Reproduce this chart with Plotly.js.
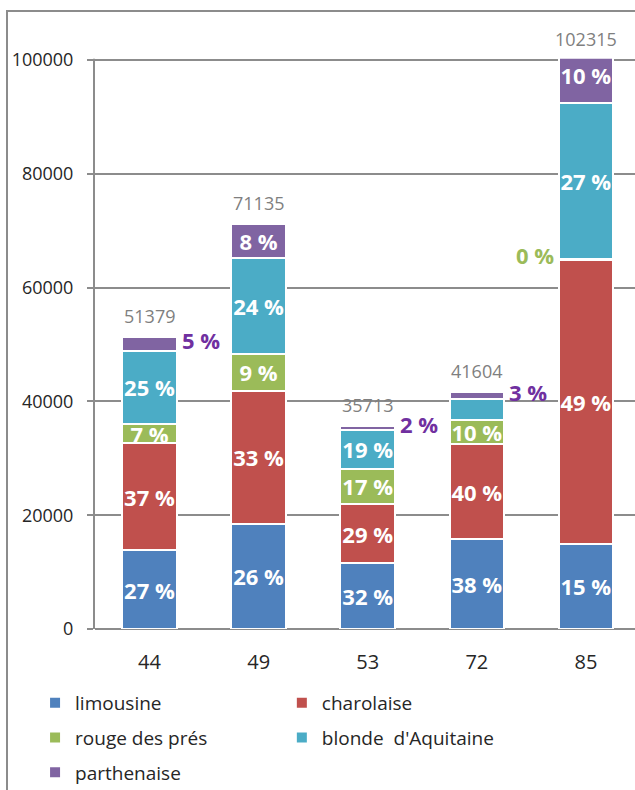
<!DOCTYPE html>
<html>
<head>
<meta charset="utf-8">
<script src="https://cdn.plot.ly/plotly-3.0.1.min.js"></script>
<style>
  html, body { margin: 0; padding: 0; background: #fff; overflow: hidden; }
  #frame { position: absolute; left: 6px; top: 10px; border-left: 2px solid #8c8c8c; border-top: 2px solid #8c8c8c; }
  #chart { width: 627px; height: 780px; }
</style>
</head>
<body>
<div id="frame"><div id="chart"></div></div>
<script>
// Head counts per breed, by département
const categories = ['44', '49', '53', '72', '85'];
const limousine = [13800, 18500, 11550, 15800, 15000];
const charolaise = [18800, 23400, 10450, 16700, 49800];
const rougeDesPres = [3500, 6500, 6150, 4150, 300];
const blondeAquitaine = [12700, 16800, 6900, 3700, 27300];
const parthenaise = [2579, 5935, 663, 1254, 9915];

const seriesNames = ['limousine', 'charolaise', 'rouge des prés', 'blonde\u00a0 d\'Aquitaine', 'parthenaise'];
const seriesValues = [limousine, charolaise, rougeDesPres, blondeAquitaine, parthenaise];
const seriesColors = ['#4F81BD', '#C0504D', '#9BBB59', '#4BACC6', '#8064A2'];
// legend column of each series
const seriesLegend = ['legend', 'legend2', 'legend', 'legend2', 'legend'];
const yTicks = [0, 20000, 40000, 60000, 80000, 100000];
const yMax = 100000;

// Segments whose share is written beside the bar: [series, category, side]
const sideLabels = [[4, 0, 'right'], [4, 2, 'right'], [4, 3, 'right'], [2, 4, 'left']];
const sideLabelColors = { 2: '#9BBB59', 4: '#7030A0' };
// Segments left without a share label: [series, category]
const unlabeled = [[3, 3]];

const FONT = 'Open Sans, sans-serif';
const totals = categories.map((c, i) => seriesValues.reduce((s, v) => s + v[i], 0));
const share = (s, i) => Math.round(seriesValues[s][i] / totals[i] * 100) + ' %';
const has = (list, s, i) => list.some(l => l[0] === s && l[1] === i);

const traces = seriesValues.map((vals, s) => ({
  type: 'bar',
  name: seriesNames[s],
  legend: seriesLegend[s],
  legendgroup: 'g' + s,
  x: categories,
  y: vals,
  marker: { color: seriesColors[s], line: { color: '#ffffff', width: 2 } },
  text: vals.map((v, i) => (has(sideLabels, s, i) || has(unlabeled, s, i)) ? '' : share(s, i)),
  textposition: 'inside',
  insidetextanchor: 'middle',
  textangle: 0,
  constraintext: 'none',
  insidetextfont: { family: FONT, size: 22, color: '#ffffff', weight: 'bold' },
  hoverinfo: 'skip'
}));

// Shares written next to thin segments (x given as category index)
const annotations = sideLabels.map(([s, i, side]) => {
  const below = seriesValues.slice(0, s).reduce((a, v) => a + v[i], 0);
  const right = side === 'right';
  return {
    x: i + (right ? 0.25 : -0.25),
    y: below + seriesValues[s][i] / 2,
    xref: 'x', yref: 'y',
    text: share(s, i),
    showarrow: false,
    xanchor: right ? 'left' : 'right',
    yanchor: 'middle',
    xshift: right ? 3 : -3,
    yshift: 4,
    font: { family: FONT, size: 22, color: sideLabelColors[s], weight: 'bold' }
  };
});

// Stack totals, sitting on the visible top of each stack
totals.forEach((t, i) => annotations.push({
  x: i,
  y: Math.min(t, yMax),
  xref: 'x', yref: 'y',
  text: String(t),
  showarrow: false,
  xanchor: 'center',
  yanchor: 'bottom',
  yshift: 7,
  font: { family: FONT, size: 18, color: '#7f7f7f' }
}));

const legendCommon = {
  orientation: 'v',
  traceorder: 'grouped',
  tracegroupgap: 7,
  y: -0.0896,
  yanchor: 'top',
  xanchor: 'left',
  bgcolor: 'rgba(0,0,0,0)',
  font: { family: FONT, size: 19, color: '#262626' },
  itemclick: false,
  itemdoubleclick: false
};

const layout = {
  width: 627,
  height: 780,
  margin: { l: 87, r: 0, t: 3, b: 163 },
  barmode: 'stack',
  bargap: 0.5,
  paper_bgcolor: '#ffffff',
  plot_bgcolor: '#ffffff',
  showlegend: true,
  xaxis: {
    type: 'category',
    range: [-0.5, 4.45],
    showgrid: false,
    showline: false,
    zeroline: false,
    ticks: '',
    tickfont: { family: FONT, size: 20, color: '#262626' },
    ticklabelstandoff: 19
  },
  yaxis: {
    range: [0, 107900],
    tickvals: yTicks,
    ticktext: yTicks.map(String),
    showgrid: true,
    gridcolor: '#8c8c8c',
    gridwidth: 2,
    zeroline: true,
    zerolinecolor: '#8c8c8c',
    zerolinewidth: 2,
    showline: true,
    linecolor: '#8c8c8c',
    linewidth: 2,
    ticks: 'outside',
    ticklen: 6,
    tickwidth: 2,
    tickcolor: '#8c8c8c',
    tickfont: { family: FONT, size: 18, color: '#262626' },
    ticklabelstandoff: 10
  },
  legend: Object.assign({}, legendCommon, { x: -0.111 }),
  legend2: Object.assign({}, legendCommon, { x: 0.346 }),
  // the value axis stops at its top tick: everything above it is masked out
  shapes: [{
    type: 'rect', layer: 'above',
    xref: 'paper', x0: -0.03, x1: 1.01,
    yref: 'y', y0: yMax + 200, y1: 107900,
    fillcolor: '#ffffff', line: { width: 0 }
  }],
  annotations: annotations
};

Plotly.newPlot('chart', traces, layout, { displayModeBar: false, staticPlot: true });
</script>
</body>
</html>
